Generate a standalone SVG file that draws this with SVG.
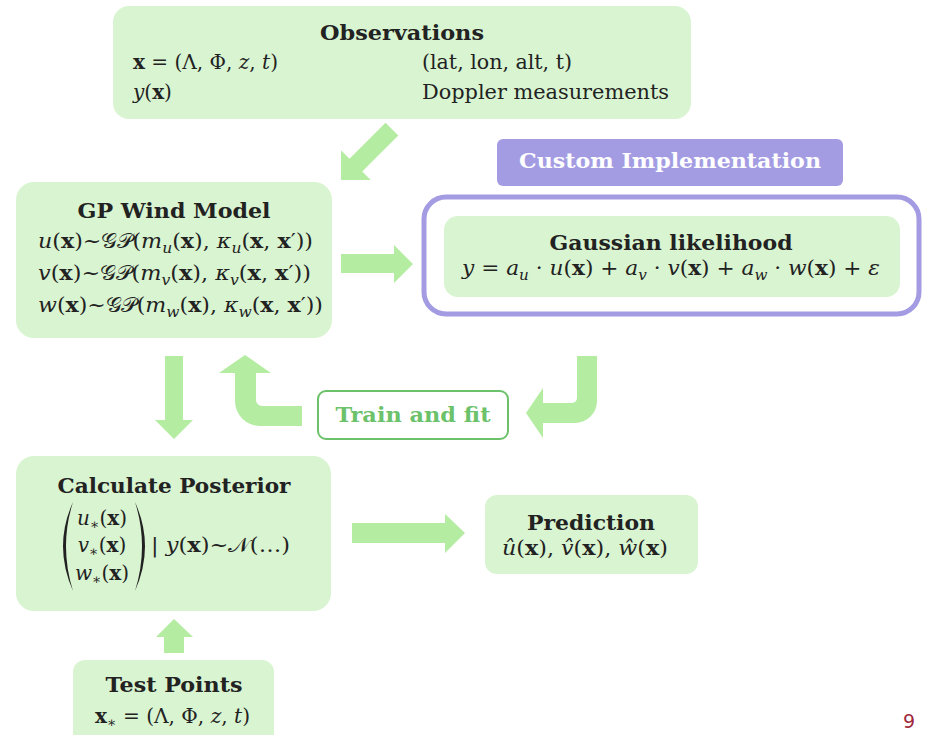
<svg xmlns="http://www.w3.org/2000/svg" width="929" height="735" viewBox="0 0 929 735">
<style>
.box{fill:#d9f4d1}
.arr{fill:#b4eca1}
.t{font-family:"DejaVu Serif","Liberation Serif",serif;fill:#222}
.title{font-weight:bold;font-size:21px;text-anchor:middle}
.m{font-size:20px}
.i{font-style:italic}
.b{font-weight:bold}
.s{font-size:14px}
</style>
<rect width="929" height="735" fill="#ffffff"/>

<g id="connectors">
  <polygon class="arr" points="385.5,122.7 349.5,158.8 341,150.3 341,180 370.7,180 362.2,171.5 398.3,135.5"/>
  <polygon class="arr" points="341,254 394,254 394,245 413,264 394,283 394,273 341,273"/>
  <polygon class="arr" points="165,356 183,356 183,420 193,420 174,439 155,420 165,420"/>
  <path class="arr" d="M235 373 L235 401 A25 25 0 0 0 260 426 L302 426 L302 406 L262 406 A6 6 0 0 1 256 400 L256 373 L271 373 L245 355 L219 373 Z"/>
  <path class="arr" d="M577 356 L597 356 L597 401 A22 22 0 0 1 575 423 L543 423 L543 438 L526 413 L543 388 L543 403 L572 403 A5 5 0 0 0 577 398 Z"/>
  <polygon class="arr" points="352,523 445,523 445,514 465,533 445,553 445,543 352,543"/>
  <polygon class="arr" points="164,653 164,637 156,637 174,619 193,637 184,637 184,653"/>
</g>

<g id="observations">
  <rect class="box" x="113" y="6" width="578" height="113" rx="16"/>
  <text class="t title" x="402" y="40" textLength="164" lengthAdjust="spacingAndGlyphs">Observations</text>
  <text class="t m" x="133" y="69" textLength="145" lengthAdjust="spacingAndGlyphs"><tspan class="b">x</tspan> = (Λ, Φ, <tspan class="i">z</tspan>, <tspan class="i">t</tspan>)</text>
  <text class="t m" x="422" y="69" textLength="150" lengthAdjust="spacingAndGlyphs">(lat, lon, alt, t)</text>
  <text class="t m" x="133" y="99"><tspan class="i">y</tspan>(<tspan class="b">x</tspan>)</text>
  <text class="t m" x="422" y="99" textLength="247" lengthAdjust="spacingAndGlyphs">Doppler measurements</text>
</g>

<g id="custom-implementation">
  <rect x="497" y="139" width="346" height="47" rx="6" fill="#a39ce3"/>
  <text class="t title" x="670" y="168" style="fill:#ffffff" textLength="302" lengthAdjust="spacingAndGlyphs">Custom Implementation</text>
</g>

<g id="gaussian-likelihood">
  <rect x="424" y="197" width="495" height="117" rx="22" fill="#ffffff" stroke="#a39ce3" stroke-width="5"/>
  <rect class="box" x="444" y="216" width="456" height="81" rx="14"/>
  <text class="t title" x="671" y="250" textLength="243" lengthAdjust="spacingAndGlyphs">Gaussian likelihood</text>
  <text class="t m" x="462" y="275" textLength="418" lengthAdjust="spacingAndGlyphs"><tspan class="i">y</tspan> = <tspan class="i">a</tspan><tspan class="i s" dy="5">u</tspan><tspan dy="-5"> · </tspan><tspan class="i">u</tspan>(<tspan class="b">x</tspan>) + <tspan class="i">a</tspan><tspan class="i s" dy="5">v</tspan><tspan dy="-5"> · </tspan><tspan class="i">v</tspan>(<tspan class="b">x</tspan>) + <tspan class="i">a</tspan><tspan class="i s" dy="5">w</tspan><tspan dy="-5"> · </tspan><tspan class="i">w</tspan>(<tspan class="b">x</tspan>) + <tspan class="i">ε</tspan></text>
</g>

<g id="gp-wind-model">
  <rect class="box" x="16" y="182" width="316" height="156" rx="18"/>
  <text class="t title" x="174" y="218" textLength="193" lengthAdjust="spacingAndGlyphs">GP Wind Model</text>
  <text class="t m" x="38" y="248" textLength="275" lengthAdjust="spacingAndGlyphs"><tspan class="i">u</tspan>(<tspan class="b">x</tspan>)~𝒢𝒫(<tspan class="i">m</tspan><tspan class="i s" dy="5">u</tspan><tspan dy="-5">(</tspan><tspan class="b">x</tspan>), <tspan class="i">κ</tspan><tspan class="i s" dy="5">u</tspan><tspan dy="-5">(</tspan><tspan class="b">x</tspan>, <tspan class="b">x</tspan>′))</text>
  <text class="t m" x="38" y="280" textLength="273" lengthAdjust="spacingAndGlyphs"><tspan class="i">v</tspan>(<tspan class="b">x</tspan>)~𝒢𝒫(<tspan class="i">m</tspan><tspan class="i s" dy="5">v</tspan><tspan dy="-5">(</tspan><tspan class="b">x</tspan>), <tspan class="i">κ</tspan><tspan class="i s" dy="5">v</tspan><tspan dy="-5">(</tspan><tspan class="b">x</tspan>, <tspan class="b">x</tspan>′))</text>
  <text class="t m" x="38" y="312" textLength="285" lengthAdjust="spacingAndGlyphs"><tspan class="i">w</tspan>(<tspan class="b">x</tspan>)~𝒢𝒫(<tspan class="i">m</tspan><tspan class="i s" dy="5">w</tspan><tspan dy="-5">(</tspan><tspan class="b">x</tspan>), <tspan class="i">κ</tspan><tspan class="i s" dy="5">w</tspan><tspan dy="-5">(</tspan><tspan class="b">x</tspan>, <tspan class="b">x</tspan>′))</text>
</g>

<g id="train-and-fit">
  <rect x="318" y="391" width="190" height="48" rx="8" fill="#ffffff" stroke="#6cc26a" stroke-width="2"/>
  <text class="t title" x="413" y="422" style="fill:#6cc26a" textLength="155" lengthAdjust="spacingAndGlyphs">Train and fit</text>
</g>

<g id="calculate-posterior">
  <rect class="box" x="16" y="456" width="315" height="155" rx="18"/>
  <text class="t title" x="174" y="493" textLength="233" lengthAdjust="spacingAndGlyphs">Calculate Posterior</text>
  <path d="M73 502 Q53 546 73 591 Q59 546 73 502 Z" fill="#222"/>
  <path d="M135 502 Q155 546 135 591 Q149 546 135 502 Z" fill="#222"/>
  <text class="t m" x="102" y="525" text-anchor="middle"><tspan class="i">u</tspan><tspan class="s" dy="4">∗</tspan><tspan dy="-4">(</tspan><tspan class="b">x</tspan>)</text>
  <text class="t m" x="102" y="552" text-anchor="middle"><tspan class="i">v</tspan><tspan class="s" dy="4">∗</tspan><tspan dy="-4">(</tspan><tspan class="b">x</tspan>)</text>
  <text class="t m" x="102" y="580" text-anchor="middle"><tspan class="i">w</tspan><tspan class="s" dy="4">∗</tspan><tspan dy="-4">(</tspan><tspan class="b">x</tspan>)</text>
  <text class="t m" x="151" y="552" textLength="139" lengthAdjust="spacingAndGlyphs">| <tspan class="i">y</tspan>(<tspan class="b">x</tspan>)~𝒩(…)</text>
</g>

<g id="prediction">
  <rect class="box" x="485" y="495" width="213" height="79" rx="12"/>
  <text class="t title" x="591" y="530" textLength="128" lengthAdjust="spacingAndGlyphs">Prediction</text>
  <text class="t m" x="502" y="555" textLength="166" lengthAdjust="spacingAndGlyphs"><tspan class="i">û</tspan>(<tspan class="b">x</tspan>), <tspan class="i">v̂</tspan>(<tspan class="b">x</tspan>), <tspan class="i">ŵ</tspan>(<tspan class="b">x</tspan>)</text>
</g>

<g id="test-points">
  <rect class="box" x="73" y="660" width="201" height="90" rx="12"/>
  <text class="t title" x="174" y="692" textLength="137" lengthAdjust="spacingAndGlyphs">Test Points</text>
  <text class="t m" x="95" y="723" textLength="155" lengthAdjust="spacingAndGlyphs"><tspan class="b">x</tspan><tspan class="s" dy="4">∗</tspan><tspan dy="-4"> = (Λ, Φ, </tspan><tspan class="i">z</tspan>, <tspan class="i">t</tspan>)</text>
</g>

<text x="903" y="728" font-family="'DejaVu Sans','Liberation Sans',sans-serif" font-size="19" fill="#a0293b">9</text>
</svg>
